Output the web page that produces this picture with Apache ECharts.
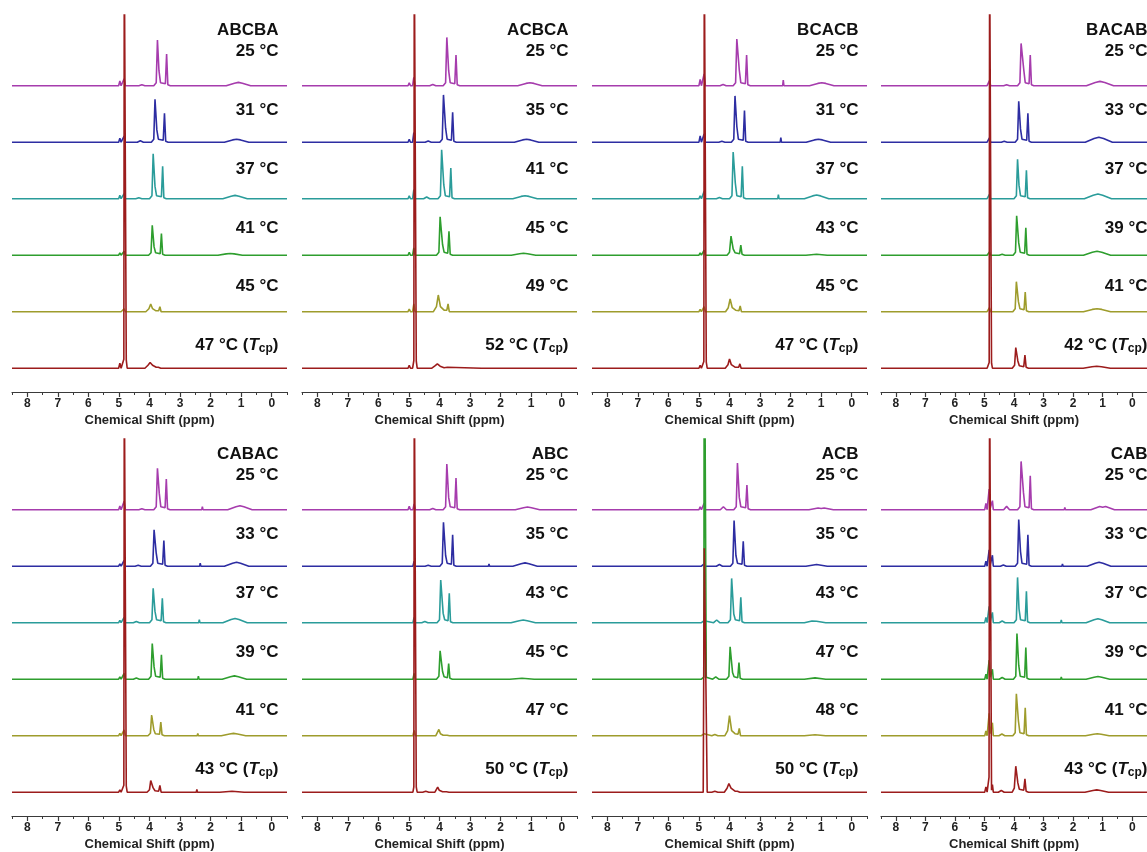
<!DOCTYPE html>
<html>
<head>
<meta charset="utf-8">
<script src="https://cdn.jsdelivr.net/npm/echarts@6.0.0/dist/echarts.min.js"></script>
<style>
html,body{margin:0;padding:0;background:#fff;}
#chart{width:1147px;height:852px;}
</style>
</head>
<body>
<div id="chart"></div>
<script>
// ---------- DATA (ppm, intensity above each trace's baseline) ----------
const panelNames = ['ABCBA','ACBCA','BCACB','BACAB','CABAC','ABC','ACB','CAB'];

const ABCBA_temps = [25,31,37,41,45,47];
const ACBCA_temps = [25,35,41,45,49,52];
const BCACB_temps = [25,31,37,43,45,47];
const BACAB_temps = [25,33,37,39,41,42];
const CABAC_temps = [25,33,37,39,41,43];
const ABC_temps   = [25,35,43,45,47,50];
const ACB_temps   = [25,35,43,47,48,50];
const CAB_temps   = [25,33,37,39,41,43];

const ABCBA_spectra = [
 [[8.5,0],[5.01,0],[4.97,4.7],[4.93,0],[4.87,0],[4.83,7],[4.79,0],[4.35,0],[4.25,1],[4.15,0],[3.86,0],[3.78,3],[3.74,45.7],[3.69,15],[3.64,3],[3.48,2],[3.44,31.7],[3.4,1],[3.32,0],[1.49,0],[1.22,2.5],[1.09,3.3],[0.96,2.5],[0.69,0],[-0.5,0]],
 [[8.5,0],[5.01,0],[4.97,4],[4.93,0],[4.87,0],[4.83,6],[4.79,0],[4.4,0],[4.3,1.5],[4.2,0],[3.94,0],[3.86,3],[3.82,43],[3.76,12.3],[3.71,3],[3.55,2],[3.51,29],[3.47,1],[3.39,0],[1.55,0],[1.28,2.3],[1.15,3],[1.02,2.3],[0.75,0],[-0.5,0]],
 [[8.5,0],[5.01,0],[4.97,3.3],[4.93,0],[4.87,0],[4.83,5],[4.79,0],[4.45,0],[4.35,1],[4.25,0],[4.0,0],[3.92,3],[3.88,45],[3.82,12.3],[3.77,3],[3.61,2],[3.57,32.3],[3.53,1],[3.45,0],[1.6,0],[1.33,2.5],[1.2,3.3],[1.07,2.5],[0.8,0],[-0.5,0]],
 [[8.5,0],[5.01,0],[4.97,2.3],[4.93,0],[4.87,0],[4.83,4],[4.79,0],[4.03,0],[3.95,2.5],[3.91,30],[3.85,8.3],[3.8,2.5],[3.65,1.5],[3.61,21.7],[3.57,1],[3.49,0],[1.76,0],[1.49,1.3],[1.36,1.7],[1.23,1.3],[0.96,0],[-0.5,0]],
 [[8.5,0],[5.01,0],[4.97,2],[4.93,0],[4.87,0],[4.83,3],[4.79,0],[4.12,0],[4.02,3],[3.96,7.7],[3.9,3],[3.8,1],[3.7,1],[3.66,5],[3.62,0],[-0.5,0]],
 [[8.5,0],[5.01,0],[4.97,5],[4.93,0],[4.87,0],[4.84,9],[4.825,420],[4.775,420],[4.76,8],[4.73,0],[4.15,0],[4.05,3],[3.98,5.7],[3.9,3],[3.78,1],[3.71,1],[3.67,2.3],[3.63,0],[-0.5,0]]
];
const ACBCA_spectra = [
 [[8.5,0],[5.03,0],[4.99,3],[4.95,0],[4.88,0],[4.84,8.3],[4.8,0],[4.32,0],[4.22,1.3],[4.12,0],[3.88,0],[3.8,3],[3.76,48.3],[3.7,15],[3.65,3],[3.5,2],[3.46,30.7],[3.42,1],[3.34,0],[2.31,0],[2.29,1.5],[2.27,0],[1.44,0],[1.17,2.3],[1.04,3],[0.91,2.3],[0.64,0],[-0.5,0]],
 [[8.5,0],[5.03,0],[4.99,3],[4.95,0],[4.88,0],[4.84,9.7],[4.8,0],[4.47,0],[4.37,1.3],[4.27,0],[3.99,0],[3.91,3],[3.87,47.3],[3.8,14],[3.75,3],[3.61,2],[3.57,30],[3.53,1],[3.45,0],[2.4,0],[2.38,1.3],[2.36,0],[1.55,0],[1.28,2.3],[1.15,3],[1.02,2.3],[0.75,0],[-0.5,0]],
 [[8.5,0],[5.03,0],[4.99,3],[4.95,0],[4.88,0],[4.84,9],[4.8,0],[4.52,0],[4.42,1.7],[4.32,0],[4.05,0],[3.97,3],[3.93,49],[3.86,14],[3.81,3],[3.67,2],[3.63,30.7],[3.59,1],[3.51,0],[2.47,0],[2.45,1],[2.43,0],[1.6,0],[1.33,2.3],[1.2,3],[1.07,2.3],[0.8,0],[-0.5,0]],
 [[8.5,0],[5.03,0],[4.99,3],[4.95,0],[4.88,0],[4.84,7.3],[4.8,0],[4.1,0],[4.02,3],[3.98,38.3],[3.9,10.7],[3.85,3],[3.73,2],[3.69,24],[3.65,1],[3.57,0],[2.52,0],[2.5,1],[2.48,0],[1.65,0],[1.38,1.5],[1.25,2],[1.12,1.5],[0.85,0],[-0.5,0]],
 [[8.5,0],[5.03,0],[4.99,2.7],[4.95,0],[4.88,0],[4.84,7.7],[4.8,0],[4.2,0],[4.1,5],[4.04,16.7],[3.97,5],[3.85,1.5],[3.76,1.5],[3.72,7.7],[3.68,0],[2.6,0],[2.58,1],[2.56,0],[-0.5,0]],
 [[8.5,0],[5.03,0],[4.99,3],[4.95,0],[4.88,0],[4.84,7.7],[4.825,420],[4.775,420],[4.76,7],[4.73,0],[4.25,0],[4.14,2.5],[4.07,4.3],[3.98,2],[3.85,0.5],[3.74,1],[3.7,0],[2.62,0],[2.6,1],[2.58,0],[-0.5,0]]
];
const BCACB_spectra = [
 [[8.5,0],[5.0,0],[4.96,6.3],[4.92,0],[4.87,0],[4.83,11.7],[4.79,0],[4.31,0],[4.21,1.3],[4.11,0],[3.88,0],[3.8,3],[3.76,46.7],[3.68,15.7],[3.63,3],[3.48,2],[3.44,30.7],[3.4,1],[3.32,0],[2.26,0],[2.24,5.7],[2.22,0],[1.38,0],[1.11,2.3],[0.98,3],[0.85,2.3],[0.58,0],[-0.5,0]],
 [[8.5,0],[5.0,0],[4.96,6.3],[4.92,0],[4.87,0],[4.83,8.3],[4.79,0],[4.35,0],[4.25,1],[4.15,0],[3.94,0],[3.86,3],[3.82,46.3],[3.76,15.7],[3.71,3],[3.55,2],[3.51,31.7],[3.47,1],[3.39,0],[2.34,0],[2.32,4.7],[2.3,0],[1.49,0],[1.22,2.3],[1.09,3],[0.96,2.3],[0.69,0],[-0.5,0]],
 [[8.5,0],[5.0,0],[4.96,3],[4.92,0],[4.87,0],[4.83,7.3],[4.79,0],[4.43,0],[4.33,1.3],[4.23,0],[4.0,0],[3.92,3],[3.88,46.7],[3.81,15.7],[3.76,3],[3.62,2],[3.58,32.3],[3.54,1],[3.46,0],[2.42,0],[2.4,4],[2.38,0],[1.55,0],[1.28,2.8],[1.15,3.7],[1.02,2.8],[0.75,0],[-0.5,0]],
 [[8.5,0],[5.0,0],[4.96,2.3],[4.92,0],[4.87,0],[4.83,5],[4.79,0],[4.08,0],[4.0,3],[3.95,19],[3.88,6.3],[3.82,2.5],[3.67,1.5],[3.63,10],[3.59,1],[3.51,0],[2.47,0],[2.45,1.3],[2.43,0],[1.5,0],[1.15,1],[0.8,0],[-0.5,0]],
 [[8.5,0],[5.0,0],[4.96,2.3],[4.92,0],[4.87,0],[4.83,5],[4.79,0],[4.13,0],[4.04,4],[3.98,12.7],[3.91,4],[3.8,1.5],[3.69,1],[3.65,5.7],[3.61,0],[2.52,0],[2.5,1],[2.48,0],[-0.5,0]],
 [[8.5,0],[5.0,0],[4.96,3],[4.92,0],[4.87,0],[4.84,6.7],[4.825,420],[4.775,420],[4.76,6],[4.73,0],[4.14,0],[4.05,3.5],[4.0,9.3],[3.94,3.5],[3.82,1],[3.7,1],[3.66,4.3],[3.62,0],[-0.5,0]]
];
const BACAB_spectra = [
 [[8.5,0],[4.99,0],[4.95,2],[4.91,0],[4.87,0],[4.83,5],[4.79,0],[4.35,0],[4.25,1],[4.15,0],[3.88,0],[3.8,3],[3.76,42.3],[3.67,16],[3.62,3],[3.49,2],[3.45,30.7],[3.41,1],[3.33,0],[1.55,0],[1.25,3.2],[1.09,4.3],[0.93,3.2],[0.63,0],[-0.5,0]],
 [[8.5,0],[4.99,0],[4.95,2],[4.91,0],[4.87,0],[4.83,4.3],[4.79,0],[4.43,0],[4.33,1],[4.23,0],[3.96,0],[3.88,3],[3.84,41],[3.78,13.3],[3.73,3],[3.57,2],[3.53,29],[3.49,1],[3.41,0],[1.59,0],[1.29,3.7],[1.13,5],[0.97,3.7],[0.67,0],[-0.5,0]],
 [[8.5,0],[4.99,0],[4.95,2],[4.91,0],[4.87,0],[4.83,4.3],[4.79,0],[4.0,0],[3.92,3],[3.88,39.3],[3.83,13.3],[3.78,3],[3.62,2],[3.58,28.3],[3.54,1],[3.46,0],[1.62,0],[1.32,3.5],[1.16,4.7],[1.0,3.5],[0.7,0],[-0.5,0]],
 [[8.5,0],[4.99,0],[4.95,1.7],[4.91,0],[4.87,0],[4.83,3.3],[4.79,0],[4.5,0],[4.4,1],[4.3,0],[4.03,0],[3.95,3],[3.91,39.3],[3.84,12.3],[3.79,3],[3.64,2],[3.6,27.3],[3.56,1],[3.48,0],[1.65,0],[1.35,3],[1.19,4],[1.03,3],[0.73,0],[-0.5,0]],
 [[8.5,0],[4.99,0],[4.95,1.7],[4.91,0],[4.87,0],[4.83,4],[4.79,0],[4.04,0],[3.96,3],[3.92,30],[3.85,10],[3.8,3],[3.66,2],[3.62,19.7],[3.58,1],[3.5,0],[1.65,0],[1.35,2.3],[1.19,3],[1.03,2.3],[0.73,0],[-0.5,0]],
 [[8.5,0],[4.99,0],[4.95,2],[4.91,0],[4.87,0],[4.84,5.7],[4.825,420],[4.775,420],[4.76,5],[4.73,0],[4.06,0],[3.98,3],[3.94,20.7],[3.87,7.3],[3.82,2.5],[3.67,1.5],[3.63,13],[3.59,1],[3.51,0],[1.66,0],[1.36,1.5],[1.2,2],[1.04,1.5],[0.74,0],[-0.5,0]]
];
const CABAC_spectra = [
 [[8.5,0],[5.01,0],[4.97,3.7],[4.93,0],[4.87,0],[4.83,8.3],[4.79,0],[4.35,0],[4.25,1],[4.15,0],[3.86,0],[3.78,3],[3.74,41.3],[3.68,16.3],[3.63,3],[3.49,2],[3.45,30.7],[3.41,1],[3.33,0],[2.29,0],[2.27,3],[2.25,0],[1.44,0],[1.17,3],[1.04,4],[0.91,3],[0.64,0],[-0.5,0]],
 [[8.5,0],[5.01,0],[4.97,2.3],[4.93,0],[4.87,0],[4.83,5.7],[4.79,0],[4.47,0],[4.37,1],[4.27,0],[3.97,0],[3.89,3],[3.85,36.3],[3.78,13],[3.73,3],[3.57,2],[3.53,25.7],[3.49,1],[3.41,0],[2.36,0],[2.34,3],[2.32,0],[1.55,0],[1.28,3],[1.15,4],[1.02,3],[0.75,0],[-0.5,0]],
 [[8.5,0],[5.01,0],[4.97,2.3],[4.93,0],[4.87,0],[4.83,5.3],[4.79,0],[4.53,0],[4.43,1.3],[4.33,0],[4.0,0],[3.92,3],[3.88,34.3],[3.82,11.3],[3.77,3],[3.62,2],[3.58,24.3],[3.54,1],[3.46,0],[2.39,0],[2.37,3],[2.35,0],[1.6,0],[1.33,3.2],[1.2,4.3],[1.07,3.2],[0.8,0],[-0.5,0]],
 [[8.5,0],[5.01,0],[4.97,2.3],[4.93,0],[4.87,0],[4.83,5.7],[4.79,0],[4.53,0],[4.43,1.3],[4.33,0],[4.03,0],[3.95,3],[3.91,35.7],[3.85,12.3],[3.8,3],[3.65,2],[3.61,24.3],[3.57,1],[3.49,0],[2.42,0],[2.4,3],[2.38,0],[1.62,0],[1.35,2.5],[1.22,3.3],[1.09,2.5],[0.82,0],[-0.5,0]],
 [[8.5,0],[5.01,0],[4.97,2.3],[4.93,0],[4.87,0],[4.83,5.7],[4.79,0],[4.05,0],[3.97,2.5],[3.93,20.7],[3.86,6.3],[3.81,2],[3.67,1.5],[3.63,13.7],[3.59,1],[3.51,0],[2.44,0],[2.42,2.3],[2.4,0],[1.65,0],[1.38,1.7],[1.25,2.3],[1.12,1.7],[0.85,0],[-0.5,0]],
 [[8.5,0],[5.01,0],[4.97,2.3],[4.93,0],[4.87,0],[4.84,7],[4.825,420],[4.775,420],[4.76,6],[4.73,0],[4.08,0],[4.0,2.5],[3.96,11.7],[3.88,4.3],[3.82,1.5],[3.7,1],[3.66,6.7],[3.62,0],[2.47,0],[2.45,2.7],[2.43,0],[1.7,0],[1.3,1],[0.9,0],[-0.5,0]]
];
const ABC_spectra = [
 [[8.5,0],[5.03,0],[4.99,3.3],[4.95,0],[4.87,0],[4.83,5.7],[4.79,0],[4.32,0],[4.22,1.3],[4.12,0],[3.88,0],[3.8,3],[3.76,45.7],[3.7,12.3],[3.65,3],[3.5,2],[3.46,31.7],[3.42,1],[3.34,0],[2.31,0],[2.29,1.7],[2.27,0],[1.52,0],[1.25,2],[1.12,2.7],[0.99,2],[0.72,0],[-0.5,0]],
 [[8.5,0],[5.03,0],[4.99,2],[4.95,0],[4.87,0],[4.83,5],[4.79,0],[4.47,0],[4.37,1],[4.27,0],[3.99,0],[3.91,3],[3.87,44],[3.8,10.7],[3.75,3],[3.61,2],[3.57,31.3],[3.53,1],[3.45,0],[2.4,0],[2.38,2.3],[2.36,0],[1.6,0],[1.33,2.5],[1.2,3.3],[1.07,2.5],[0.8,0],[-0.5,0]],
 [[8.5,0],[5.03,0],[4.99,2],[4.95,0],[4.87,0],[4.83,5.3],[4.79,0],[4.58,0],[4.48,1.3],[4.38,0],[4.08,0],[4.0,3],[3.96,42.7],[3.88,9.3],[3.83,3],[3.72,2],[3.68,29.3],[3.64,1],[3.56,0],[2.52,0],[2.5,1],[2.48,0],[1.66,0],[1.39,2],[1.26,2.7],[1.13,2],[0.86,0],[-0.5,0]],
 [[8.5,0],[5.03,0],[4.99,2],[4.95,0],[4.87,0],[4.83,5.7],[4.79,0],[4.1,0],[4.02,3],[3.98,28.3],[3.9,7.7],[3.85,2.5],[3.74,1.5],[3.7,15.7],[3.66,1],[3.58,0],[2.57,0],[2.55,1],[2.53,0],[1.7,0],[1.3,1],[0.9,0],[-0.5,0]],
 [[8.5,0],[5.03,0],[4.99,2],[4.95,0],[4.87,0],[4.83,5.3],[4.79,0],[4.12,0],[4.06,2],[4.02,6.3],[3.97,2],[3.88,0.5],[3.75,0.5],[3.71,2.3],[3.67,0],[2.62,0],[2.6,1],[2.58,0],[-0.5,0]],
 [[8.5,0],[5.03,0],[4.99,2],[4.95,0],[4.87,0],[4.84,5.3],[4.825,420],[4.775,420],[4.76,5],[4.73,0],[4.55,0],[4.45,1],[4.35,0],[4.15,0],[4.1,2],[4.06,5],[4.01,2],[3.9,0.5],[3.77,0.5],[3.73,1.7],[3.69,0],[2.62,0],[2.6,1],[2.58,0],[-0.5,0]]
];
const ACB_spectra = [
 [[8.5,0],[5.0,0],[4.96,3],[4.92,0],[4.87,0],[4.83,6.3],[4.79,0],[4.3,0],[4.2,3],[4.1,0],[3.86,0],[3.78,3],[3.74,46.7],[3.68,12.3],[3.63,3],[3.47,2],[3.43,24.7],[3.39,1],[3.31,0],[1.4,0],[1.1,1.7],[1.0,1.2],[0.9,1.7],[0.6,0],[-0.5,0]],
 [[8.5,0],[5.0,0],[4.96,1.7],[4.92,0],[4.87,0],[4.83,2.3],[4.79,0],[4.43,0],[4.33,1.7],[4.23,0],[3.97,0],[3.89,3],[3.85,45.7],[3.79,10.7],[3.74,3],[3.59,2],[3.55,25],[3.51,1],[3.43,0],[1.5,0],[1.15,1.7],[0.8,0],[-0.5,0]],
 [[8.5,0],[5.0,0],[4.96,1],[4.92,0],[4.87,0],[4.83,2],[4.79,0],[4.52,0],[4.42,2.7],[4.32,0],[4.05,0],[3.97,3],[3.93,44.3],[3.86,8.7],[3.81,3],[3.67,2],[3.63,25.3],[3.59,1],[3.51,0],[1.55,0],[1.3,1.7],[1.15,1.5],[1.1,1.7],[0.85,0],[-0.5,0]],
 [[8.5,0],[5.0,0],[4.96,1],[4.92,0],[4.87,0],[4.84,2],[4.825,420],[4.775,420],[4.76,2],[4.73,0],[4.55,0],[4.45,2.3],[4.35,0],[4.1,0],[4.02,3],[3.98,32.3],[3.9,6.7],[3.85,2.5],[3.73,1.5],[3.69,16.7],[3.65,1],[3.57,0],[1.55,0],[1.2,1.3],[0.85,0],[-0.5,0]],
 [[8.5,0],[5.0,0],[4.96,1],[4.92,0],[4.87,0],[4.83,2],[4.79,0],[4.58,0],[4.48,1.3],[4.38,0],[4.15,0],[4.06,5],[4.0,20],[3.93,5],[3.82,2],[3.72,1.5],[3.68,7.3],[3.64,0],[1.55,0],[1.2,1],[0.85,0],[-0.5,0]],
 [[8.5,0],[4.86,0],[4.825,244],[4.775,244],[4.73,0],[4.58,0],[4.48,1],[4.38,0],[4.17,0],[4.08,4],[4.02,8.7],[3.95,4],[3.82,1],[3.74,1],[3.7,2.7],[3.66,0],[-0.5,0]]
];
const CAB_spectra = [
 [[8.5,0],[4.99,0],[4.95,6.3],[4.91,0],[4.88,0],[4.84,20.7],[4.8,2],[4.76,2],[4.73,9],[4.7,0],[4.35,0],[4.25,3.3],[4.15,0],[3.88,0],[3.8,3],[3.76,48.3],[3.68,17.3],[3.63,3],[3.49,2],[3.45,34],[3.41,1],[3.33,0],[2.3,0],[2.28,2.3],[2.26,0],[1.4,0],[1.1,3.3],[1.0,2.5],[0.9,3.3],[0.6,0],[-0.5,0]],
 [[8.5,0],[4.99,0],[4.95,5],[4.91,0],[4.88,0],[4.84,16.3],[4.8,2],[4.76,2],[4.73,11],[4.7,0],[4.46,0],[4.36,1.3],[4.26,0],[3.96,0],[3.88,3],[3.84,46.7],[3.78,14.7],[3.73,3],[3.57,2],[3.53,31.3],[3.49,1],[3.41,0],[2.38,0],[2.36,2.3],[2.34,0],[1.52,0],[1.25,3],[1.12,4],[0.99,3],[0.72,0],[-0.5,0]],
 [[8.5,0],[4.99,0],[4.95,5.3],[4.91,0],[4.88,0],[4.84,16.3],[4.8,2],[4.76,2],[4.73,10.3],[4.7,0],[4.5,0],[4.4,1.7],[4.3,0],[4.0,0],[3.92,3],[3.88,45.3],[3.83,13.7],[3.78,3],[3.62,2],[3.58,31.3],[3.54,1],[3.46,0],[2.42,0],[2.4,2.7],[2.38,0],[1.56,0],[1.29,3],[1.16,4],[1.03,3],[0.76,0],[-0.5,0]],
 [[8.5,0],[4.99,0],[4.95,5],[4.91,0],[4.88,0],[4.84,19],[4.8,2],[4.76,2],[4.73,10],[4.7,0],[4.5,0],[4.4,1.7],[4.3,0],[4.02,0],[3.94,3],[3.9,45.7],[3.84,14],[3.79,3],[3.64,2],[3.6,31.7],[3.56,1],[3.48,0],[2.42,0],[2.4,2.3],[2.38,0],[1.56,0],[1.29,2],[1.16,2.7],[1.03,2],[0.76,0],[-0.5,0]],
 [[8.5,0],[4.99,0],[4.95,4.7],[4.91,0],[4.88,0],[4.84,22.3],[4.8,2],[4.76,2],[4.73,13],[4.7,0],[4.51,0],[4.41,1.7],[4.31,0],[4.04,0],[3.96,3],[3.92,42],[3.85,14.7],[3.8,3],[3.66,2],[3.62,28],[3.58,1],[3.5,0],[2.44,0],[2.42,1.3],[2.4,0],[1.58,0],[1.31,1.5],[1.18,2],[1.05,1.5],[0.78,0],[-0.5,0]],
 [[8.5,0],[4.99,0],[4.95,5.3],[4.91,0],[4.88,0],[4.845,15],[4.825,420],[4.775,420],[4.76,2],[4.73,7.7],[4.7,0],[4.53,0],[4.43,1.7],[4.33,0],[4.06,0],[3.99,4],[3.94,26],[3.87,9.3],[3.82,3],[3.67,2],[3.63,13.3],[3.59,1],[3.51,0],[2.47,0],[2.45,1],[2.43,0],[1.6,0],[1.33,1.7],[1.2,2.3],[1.07,1.7],[0.8,0],[-0.5,0]]
];

const majorTicks = [0,1,2,3,4,5,6,7,8];
const minorTicks = [-0.5,0.5,1.5,2.5,3.5,4.5,5.5,6.5,7.5,8.5];
const axisTitle = 'Chemical Shift (ppm)';

// ---------- LAYOUT / STYLE ----------
const allTemps = [ABCBA_temps, ACBCA_temps, BCACB_temps, BACAB_temps, CABAC_temps, ABC_temps, ACB_temps, CAB_temps];
const allSpectra = [ABCBA_spectra, ACBCA_spectra, BCACB_spectra, BACAB_spectra, CABAC_spectra, ABC_spectra, ACB_spectra, CAB_spectra];
const traceColors = ['#A63CAD','#2D2DA2','#2A9C9A','#2E9E2E','#9E9C2C','#9C1C1C'];
const panelLefts = [12, 302, 592, 881];
const rowTops = [15, 439];
const gridW = 275, gridH = 377;
const traceOffsets = [306.3, 249.8, 193.3, 136.8, 80.3, 23.8];
const FONT = '"Liberation Sans", Arial, Helvetica, sans-serif';

const grids = [], xAxes = [], yAxes = [], series = [], graphics = [];
for (let p = 0; p < panelNames.length; p++) {
  const col = p % 4, row = Math.floor(p / 4);
  const left = panelLefts[col], top = rowTops[row];
  grids.push({ left: left, top: top, width: gridW, height: gridH });
  xAxes.push({
    gridIndex: p, type: 'value', inverse: true, min: -0.5, max: 8.5, position: 'bottom',
    axisLine: { show: true, onZero: false, lineStyle: { color: '#3a3a3a', width: 1.2 } },
    axisTick: { show: true, customValues: majorTicks, length: 5, lineStyle: { color: '#3a3a3a', width: 1.2 } },
    axisLabel: { show: true, customValues: majorTicks, margin: 6, fontSize: 12, fontWeight: 'bold', color: '#222', fontFamily: FONT },
    splitLine: { show: false },
    name: axisTitle, nameLocation: 'middle', nameGap: 22,
    nameTextStyle: { fontSize: 13, fontWeight: 'bold', color: '#222', fontFamily: FONT }
  });
  xAxes.push({
    gridIndex: p, type: 'value', inverse: true, min: -0.5, max: 8.5, position: 'bottom',
    axisLine: { show: false, onZero: false },
    axisTick: { show: true, customValues: minorTicks, length: 3, lineStyle: { color: '#3a3a3a', width: 1 } },
    axisLabel: { show: false },
    splitLine: { show: false }
  });
  yAxes.push({ gridIndex: p, type: 'value', min: 0, max: gridH, show: false });

  const spectra = allSpectra[p];
  spectra.forEach((trace, i) => {
    const maxH = Math.max(...trace.map(d => d[1]));
    series.push({
      type: 'line', xAxisIndex: 2 * p, yAxisIndex: p,
      data: trace.map(d => [d[0], traceOffsets[i] + d[1]]),
      showSymbol: false, symbol: 'none', clip: true, silent: true,
      z: maxH > 200 ? 4 : 2,
      lineStyle: { color: traceColors[i], width: 1.6 },
      animation: false
    });
  });

  // labels
  const lx = left + 266.5;
  graphics.push({
    type: 'text', x: lx, y: top + 15.5, silent: true,
    style: { text: panelNames[p], align: 'right', verticalAlign: 'middle', fill: '#111',
      fontSize: 17, fontWeight: 'bold', fontFamily: FONT }
  });
  const temps = allTemps[p];
  temps.forEach((t, i) => {
    const isLast = i === temps.length - 1;
    const txt = isLast ? ('{m|' + t + ' °C (}{i|T}{s|cp}{m|)}') : (t + ' °C');
    graphics.push({
      type: 'text', x: lx, y: top + 36.5 + 58.8 * i, silent: true,
      style: {
        text: txt, align: 'right', verticalAlign: 'middle', fill: '#111',
        fontSize: 17, fontWeight: 'bold', fontFamily: FONT,
        rich: {
          m: { fontSize: 17, fontWeight: 'bold', fontFamily: FONT, fill: '#111', lineHeight: 18 },
          i: { fontSize: 17, fontWeight: 'bold', fontStyle: 'italic', fontFamily: FONT, fill: '#111', lineHeight: 18 },
          s: { fontSize: 12, fontWeight: 'bold', fontFamily: FONT, fill: '#111', lineHeight: 8, verticalAlign: 'bottom' }
        }
      }
    });
  });
}

const chart = echarts.init(document.getElementById('chart'), null, { renderer: 'canvas' });
chart.setOption({
  backgroundColor: '#ffffff',
  animation: false,
  grid: grids,
  xAxis: xAxes,
  yAxis: yAxes,
  series: series,
  graphic: graphics
});
</script>
</body>
</html>
